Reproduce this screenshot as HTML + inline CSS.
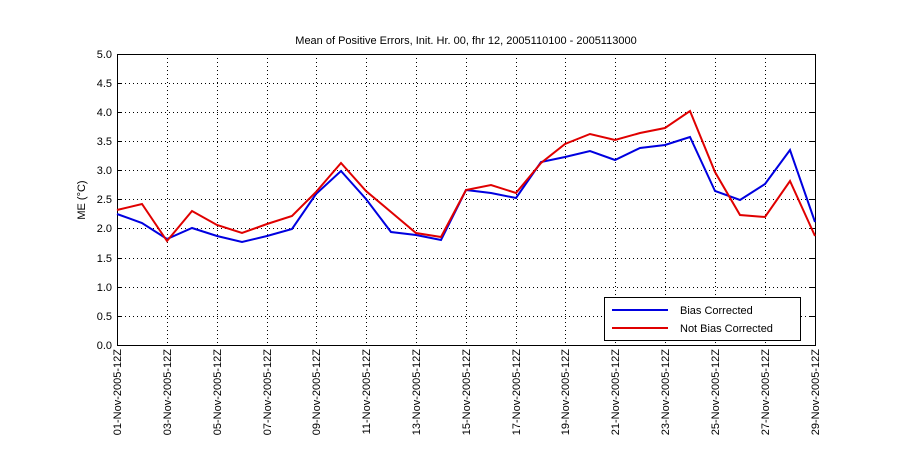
<!DOCTYPE html>
<html><head><style>body{margin:0;background:#fff}svg{display:block}text{font-family:"Liberation Sans",sans-serif;font-size:11px;fill:#000}</style></head><body>
<svg width="900" height="450" xmlns="http://www.w3.org/2000/svg">
<rect width="900" height="450" fill="#fff"/>
<g stroke="#000" stroke-width="1" stroke-dasharray="1,3" fill="none">
<path d="M117 83.5H815M117 112.5H815M117 141.5H815M117 170.5H815M117 199.5H815M117 228.5H815M117 258.5H815M117 287.5H815M117 316.5H815"/>
<path d="M167.5 54V345M217.5 54V345M267.5 54V345M316.5 54V345M366.5 54V345M416.5 54V345M466.5 54V345M516.5 54V345M565.5 54V345M615.5 54V345M665.5 54V345M715.5 54V345M765.5 54V345"/>
</g>
<rect x="117.5" y="54.5" width="698" height="291" fill="none" stroke="#000"/>
<g stroke="#000"><path d="M117 83.5h5M117 112.5h5M117 141.5h5M117 170.5h5M117 199.5h5M117 228.5h5M117 258.5h5M117 287.5h5M117 316.5h5M815 83.5h-5M815 112.5h-5M815 141.5h-5M815 170.5h-5M815 199.5h-5M815 228.5h-5M815 258.5h-5M815 287.5h-5M815 316.5h-5"/></g>
<g text-anchor="end">
<text x="112" y="58">5.0</text><text x="112" y="87">4.5</text><text x="112" y="116">4.0</text><text x="112" y="145">3.5</text><text x="112" y="174">3.0</text><text x="112" y="203">2.5</text><text x="112" y="232">2.0</text><text x="112" y="262">1.5</text><text x="112" y="291">1.0</text><text x="112" y="320">0.5</text><text x="112" y="349">0.0</text>
</g>
<text x="85" y="200" text-anchor="middle" transform="rotate(-90 85 200)">ME (°C)</text>
<text x="466" y="44" text-anchor="middle">Mean of Positive Errors, Init. Hr. 00, fhr 12, 2005110100 - 2005113000</text>
<g text-anchor="end">
<text transform="translate(121,349) rotate(-90)">01-Nov-2005-12Z</text>
<text transform="translate(171,349) rotate(-90)">03-Nov-2005-12Z</text>
<text transform="translate(221,349) rotate(-90)">05-Nov-2005-12Z</text>
<text transform="translate(271,349) rotate(-90)">07-Nov-2005-12Z</text>
<text transform="translate(320,349) rotate(-90)">09-Nov-2005-12Z</text>
<text transform="translate(370,349) rotate(-90)">11-Nov-2005-12Z</text>
<text transform="translate(420,349) rotate(-90)">13-Nov-2005-12Z</text>
<text transform="translate(470,349) rotate(-90)">15-Nov-2005-12Z</text>
<text transform="translate(520,349) rotate(-90)">17-Nov-2005-12Z</text>
<text transform="translate(569,349) rotate(-90)">19-Nov-2005-12Z</text>
<text transform="translate(619,349) rotate(-90)">21-Nov-2005-12Z</text>
<text transform="translate(669,349) rotate(-90)">23-Nov-2005-12Z</text>
<text transform="translate(719,349) rotate(-90)">25-Nov-2005-12Z</text>
<text transform="translate(769,349) rotate(-90)">27-Nov-2005-12Z</text>
<text transform="translate(819,349) rotate(-90)">29-Nov-2005-12Z</text>
</g>
<polyline fill="none" stroke="#0000e0" stroke-width="2" points="117,214 142,223 167,239 192,228 217,236 242,242 267,236 292,229 316,194 341,171 366,199 391,232 416,235 441,240 466,190 491,193 516,198 541,162 565,157 590,151 615,160 640,148 665,145 690,137 715,191 740,200 765,184 790,150 815,222"/>
<polyline fill="none" stroke="#e00000" stroke-width="2" points="117,210 142,204 167,241 192,211 217,225 242,233 267,224 292,216 316,192 341,163 366,191 391,212 416,233 441,237 466,190 491,185 516,193 541,163 565,144 590,134 615,140 640,133 665,128 690,111 715,172 740,215 765,217 790,181 815,236"/>
<rect x="604.5" y="297.5" width="196" height="43" fill="#fff" stroke="#000"/>
<line x1="612" y1="310" x2="668" y2="310" stroke="#0000e0" stroke-width="2"/>
<line x1="612" y1="328" x2="668" y2="328" stroke="#e00000" stroke-width="2"/>
<text x="680" y="314">Bias Corrected</text>
<text x="680" y="332">Not Bias Corrected</text>
</svg>
</body></html>
